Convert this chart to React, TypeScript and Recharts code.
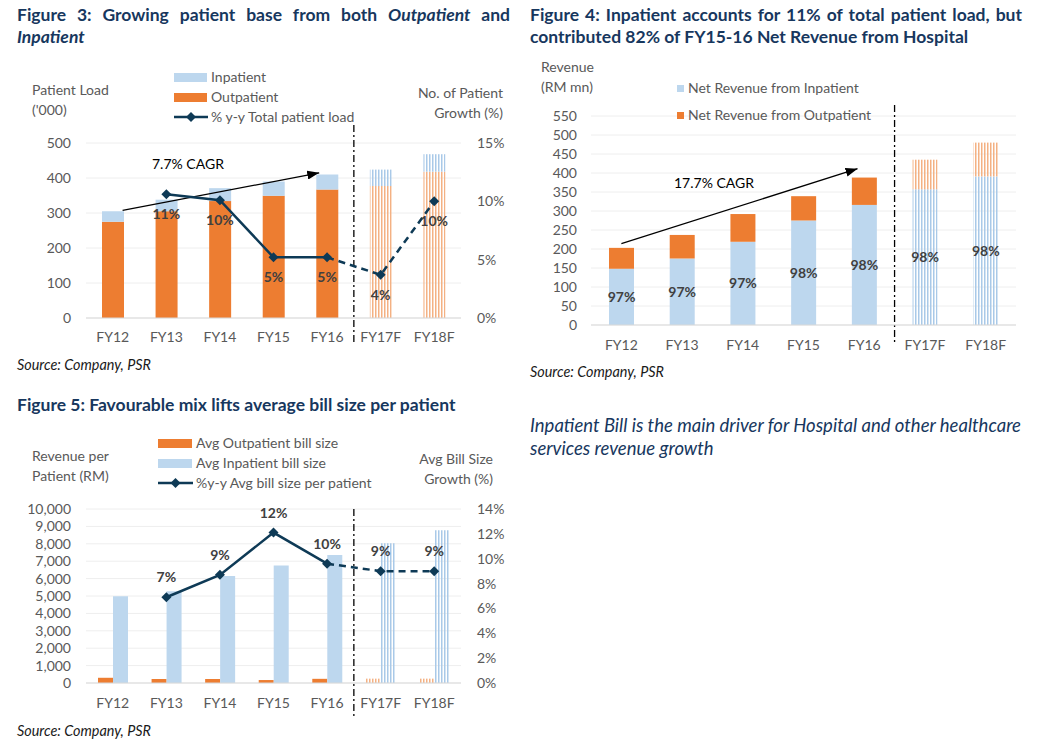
import React from "react";
import { Bar, CartesianGrid, Cell, ComposedChart, LabelList, Line, ReferenceLine, XAxis, YAxis } from "recharts";

const CATEGORIES = ["FY12", "FY13", "FY14", "FY15", "FY16", "FY17F", "FY18F"];
const LAST_ACTUAL = 4; // FY16, forecasts start after it

// Figure 3 – patient load ('000) and y-y growth (%)
const OUTPATIENT_LOAD = [275, 305, 334, 349, 367, 377, 418];
const INPATIENT_LOAD = [30, 33, 37, 41, 43, 47, 50];
const LOAD_GROWTH = [null, 10.6, 10.1, 5.2, 5.2, 3.7, 10.0];
const LOAD_TICKS = [0, 100, 200, 300, 400, 500];
const LOAD_GROWTH_TICKS = [0, 5, 10, 15];
const LOAD_CAGR = [302, 419]; // arrow FY12 -> FY16

// Figure 4 – net revenue (RM mn)
const REV_INPATIENT = [148, 175, 219, 275, 316, 357, 391];
const REV_OUTPATIENT = [55, 62, 73, 64, 72, 78, 89];
const INPATIENT_SHARE = [97, 97, 97, 98, 98, 98, 98];
const REV_TICKS = [0, 50, 100, 150, 200, 250, 300, 350, 400, 450, 500, 550];
const REV_CAGR = [214, 417];

// Figure 5 – average bill size (RM) and y-y growth (%)
const BILL_OUTPATIENT = [300, 230, 230, 170, 240, 250, 250];
const BILL_INPATIENT = [4980, 5270, 6150, 6760, 7350, 8030, 8780];
const BILL_GROWTH = [null, 6.9, 8.7, 12.1, 9.6, 9.0, 9.0];
const BILL_TICKS = [0, 1000, 2000, 3000, 4000, 5000, 6000, 7000, 8000, 9000, 10000];
const BILL_GROWTH_TICKS = [0, 2, 4, 6, 8, 10, 12, 14];

const ORANGE = "#ED7D31";
const BLUE = "#BDD7EE";
const NAVY = "#0E3A56";
const GREY = "#595959";
const LABEL = "#404040";
const GRID = "#EEEEEE";
const TITLE = "#17375E";
const FONT = "Lato, 'Open Sans', sans-serif";
const TICK = { fill: GREY, fontSize: 14, fontFamily: FONT };

const isForecast = (i: number) => i > LAST_ACTUAL;
const pct = (v: any) => (v == null ? "" : `${Math.round(Number(v))}%`);

const loadData = CATEGORIES.map((cat, i) => ({
  cat,
  outpatient: OUTPATIENT_LOAD[i],
  inpatient: INPATIENT_LOAD[i],
  growth: LOAD_GROWTH[i],
  growthActual: i <= LAST_ACTUAL ? LOAD_GROWTH[i] : null,
  growthForecast: i >= LAST_ACTUAL ? LOAD_GROWTH[i] : null,
}));

const revData = CATEGORIES.map((cat, i) => ({
  cat,
  inpatient: REV_INPATIENT[i],
  outpatient: REV_OUTPATIENT[i],
  share: INPATIENT_SHARE[i],
}));

const billData = CATEGORIES.map((cat, i) => ({
  cat,
  outpatient: BILL_OUTPATIENT[i],
  inpatient: BILL_INPATIENT[i],
  growth: BILL_GROWTH[i],
  growthActual: i <= LAST_ACTUAL ? BILL_GROWTH[i] : null,
  growthForecast: i >= LAST_ACTUAL ? BILL_GROWTH[i] : null,
}));

function Diamond(props: any) {
  const { cx, cy, index } = props;
  if (cx == null || cy == null || Number.isNaN(cx) || Number.isNaN(cy)) return <g key={`d${index}`} />;
  return <path key={`d${index}`} d={`M${cx},${cy - 5}L${cx + 5},${cy}L${cx},${cy + 5}L${cx - 5},${cy}Z`} fill={NAVY} />;
}

// dash-dot separator between actuals and forecasts, drawn a bit past the plot area
function dividerShape(extTop: number, extBottom: number) {
  return (p: any) => {
    const top = Math.min(p.y1, p.y2) - extTop;
    const bottom = Math.max(p.y1, p.y2) + extBottom;
    return <line x1={p.x1} x2={p.x1} y1={top} y2={bottom} stroke="#000" strokeWidth={1.3} strokeDasharray="7 3 2 3" />;
  };
}

function arrowShape(markerId: string, trimStart: number, trimEnd: number) {
  return (p: any) => {
    const dx = p.x2 - p.x1;
    const dy = p.y2 - p.y1;
    const len = Math.hypot(dx, dy) || 1;
    const ux = dx / len;
    const uy = dy / len;
    return (
      <line
        x1={p.x1 + ux * trimStart}
        y1={p.y1 + uy * trimStart}
        x2={p.x2 - ux * trimEnd}
        y2={p.y2 - uy * trimEnd}
        stroke="#000"
        strokeWidth={1.3}
        markerEnd={`url(#${markerId})`}
      />
    );
  };
}

function Defs({ prefix }: { prefix: string }) {
  return (
    <defs>
      <pattern id={`${prefix}-orange`} width="3" height="4" patternUnits="userSpaceOnUse">
        <rect width="1.5" height="4" fill="#F4B183" />
      </pattern>
      <pattern id={`${prefix}-blue`} width="3" height="4" patternUnits="userSpaceOnUse">
        <rect width="1.5" height="4" fill="#A9C9E8" />
      </pattern>
      <marker id={`${prefix}-arrow`} markerWidth="12" markerHeight="9" refX="12" refY="4.5" orient="auto" markerUnits="userSpaceOnUse">
        <path d="M0,0L12,4.5L0,9Z" fill="#000" />
      </marker>
    </defs>
  );
}

const abs = (left: number, top: number, extra: React.CSSProperties = {}): React.CSSProperties => ({
  position: "absolute",
  left,
  top,
  fontFamily: FONT,
  whiteSpace: "nowrap",
  ...extra,
});

function Text({ x, y, children, size = 14, color = GREY, right = false, style = {} }: any) {
  // y is the vertical centre of the text line
  const s: React.CSSProperties = right
    ? abs(0, y - 10, { width: x, textAlign: "right", fontSize: size, color, lineHeight: "20px", ...style })
    : abs(x, y - 10, { fontSize: size, color, lineHeight: "20px", ...style });
  return <div style={s}>{children}</div>;
}

function Swatch({ x, y, w, h, color }: any) {
  return <div style={abs(x, y - h / 2, { width: w, height: h, background: color })} />;
}

function LineSwatch({ x, y, w }: any) {
  return (
    <svg style={abs(x, y - 6)} width={w} height={12}>
      <line x1={0} x2={w} y1={6} y2={6} stroke={NAVY} strokeWidth={2.5} />
      <path d={`M${w / 2},1L${w / 2 + 5},6L${w / 2},11L${w / 2 - 5},6Z`} fill={NAVY} />
    </svg>
  );
}

function PatientLoadChart() {
  return (
    <div style={abs(0, 120)}>
      <ComposedChart width={520} height={240} data={loadData} margin={{ top: 23, right: 0, bottom: 0, left: 0 }} barSize={22}>
        <Defs prefix="c1" />
        <CartesianGrid vertical={false} stroke={GRID} />
        <XAxis dataKey="cat" tick={TICK} tickLine={false} axisLine={{ stroke: "#D9D9D9" }} tickMargin={8} height={42} interval={0} />
        <YAxis domain={[0, 500]} ticks={LOAD_TICKS} interval={0} tick={TICK} width={86} axisLine={false} tickLine={false} tickMargin={9} />
        <YAxis yAxisId="r" orientation="right" domain={[0, 15]} ticks={LOAD_GROWTH_TICKS} interval={0} tickFormatter={(v) => `${v}%`} tick={TICK} width={59} axisLine={false} tickLine={false} tickMargin={10} />
        <Bar dataKey="outpatient" stackId="load" isAnimationActive={false}>
          {loadData.map((_, i) => (
            <Cell key={i} fill={isForecast(i) ? "url(#c1-orange)" : ORANGE} />
          ))}
        </Bar>
        <Bar dataKey="inpatient" stackId="load" isAnimationActive={false}>
          {loadData.map((_, i) => (
            <Cell key={i} fill={isForecast(i) ? "url(#c1-blue)" : BLUE} />
          ))}
        </Bar>
        <ReferenceLine x="FY16" position="end" shape={dividerShape(18, 24)} />
        <ReferenceLine segment={[{ x: "FY12", y: LOAD_CAGR[0] }, { x: "FY16", y: LOAD_CAGR[1] }]} shape={arrowShape("c1-arrow", 10, 8)} ifOverflow="visible" />
        <Line yAxisId="r" dataKey="growthActual" stroke={NAVY} strokeWidth={2.5} dot={false} isAnimationActive={false} connectNulls={false} />
        <Line yAxisId="r" dataKey="growthForecast" stroke={NAVY} strokeWidth={2.5} strokeDasharray="7 5" dot={false} isAnimationActive={false} />
        <Line yAxisId="r" dataKey="growth" stroke="none" strokeWidth={0} dot={Diamond} activeDot={false} isAnimationActive={false}>
          <LabelList dataKey="growth" position="bottom" offset={15} formatter={pct} fill={LABEL} fontWeight={700} fontSize={14} fontFamily={FONT} />
        </Line>
      </ComposedChart>
    </div>
  );
}

function RevenueChart() {
  return (
    <div style={abs(525, 100)}>
      <ComposedChart width={513} height={270} data={revData} margin={{ top: 16, right: 22, bottom: 0, left: 0 }} barSize={25}>
        <Defs prefix="c2" />
        <CartesianGrid vertical={false} stroke={GRID} />
        <XAxis dataKey="cat" tick={TICK} tickLine={false} axisLine={{ stroke: "#D9D9D9" }} tickMargin={9} height={45} interval={0} />
        <YAxis domain={[0, 550]} ticks={REV_TICKS} interval={0} tick={TICK} width={66} axisLine={false} tickLine={false} tickMargin={8} />
        <Bar dataKey="inpatient" stackId="rev" isAnimationActive={false}>
          {revData.map((_, i) => (
            <Cell key={i} fill={isForecast(i) ? "url(#c2-blue)" : BLUE} />
          ))}
          <LabelList dataKey="share" position="center" formatter={pct} fill={LABEL} fontWeight={700} fontSize={14} fontFamily={FONT} />
        </Bar>
        <Bar dataKey="outpatient" stackId="rev" isAnimationActive={false}>
          {revData.map((_, i) => (
            <Cell key={i} fill={isForecast(i) ? "url(#c2-orange)" : ORANGE} />
          ))}
        </Bar>
        <ReferenceLine x="FY16" position="end" shape={dividerShape(11, 20)} />
        <ReferenceLine segment={[{ x: "FY12", y: REV_CAGR[0] }, { x: "FY16", y: REV_CAGR[1] }]} shape={arrowShape("c2-arrow", 0, 7)} ifOverflow="visible" />
      </ComposedChart>
    </div>
  );
}

function BillSizeChart() {
  return (
    <div style={abs(0, 490)}>
      <ComposedChart width={520} height={230} data={billData} margin={{ top: 19, right: 0, bottom: 0, left: 0 }} barSize={15} barGap={0}>
        <Defs prefix="c3" />
        <CartesianGrid vertical={false} stroke={GRID} />
        <XAxis dataKey="cat" tick={TICK} tickLine={false} axisLine={{ stroke: "#D9D9D9" }} tickMargin={9} height={37} interval={0} />
        <YAxis domain={[0, 10000]} ticks={BILL_TICKS} interval={0} tickFormatter={(v) => Number(v).toLocaleString("en-US")} tick={TICK} width={86} axisLine={false} tickLine={false} tickMargin={9} />
        <YAxis yAxisId="r" orientation="right" domain={[0, 14]} ticks={BILL_GROWTH_TICKS} interval={0} tickFormatter={(v) => `${v}%`} tick={TICK} width={59} axisLine={false} tickLine={false} tickMargin={10} />
        <Bar dataKey="outpatient" isAnimationActive={false}>
          {billData.map((_, i) => (
            <Cell key={i} fill={isForecast(i) ? "url(#c3-orange)" : ORANGE} />
          ))}
        </Bar>
        <Bar dataKey="inpatient" isAnimationActive={false}>
          {billData.map((_, i) => (
            <Cell key={i} fill={isForecast(i) ? "url(#c3-blue)" : BLUE} />
          ))}
        </Bar>
        <ReferenceLine x="FY16" position="end" shape={dividerShape(0, 33)} />
        <Line yAxisId="r" dataKey="growthActual" stroke={NAVY} strokeWidth={2.5} dot={false} isAnimationActive={false} />
        <Line yAxisId="r" dataKey="growthForecast" stroke={NAVY} strokeWidth={2.5} strokeDasharray="7 5" dot={false} isAnimationActive={false} />
        <Line yAxisId="r" dataKey="growth" stroke="none" strokeWidth={0} dot={Diamond} activeDot={false} isAnimationActive={false}>
          <LabelList dataKey="growth" position="top" offset={15} formatter={pct} fill={LABEL} fontWeight={700} fontSize={14} fontFamily={FONT} />
        </Line>
      </ComposedChart>
    </div>
  );
}

const titleStyle = (left: number, top: number, width: number): React.CSSProperties => ({
  position: "absolute",
  left,
  top,
  width,
  fontFamily: FONT,
  fontWeight: 700,
  fontSize: 17.5,
  lineHeight: "22px",
  color: TITLE,
  textAlign: "justify",
});

const sourceStyle = { fontStyle: "italic", color: "#1A1A1A" };

export default function App() {
  return (
    <div style={{ position: "absolute", left: 0, top: 0, width: 1038, height: 745, background: "#fff", overflow: "hidden" }}>
      {/* Figure 3 */}
      <div style={titleStyle(17, 4, 493)}>
        Figure 3: Growing patient base from both <i>Outpatient</i> and <i>Inpatient</i>
      </div>
      <PatientLoadChart />
      <Text x={32} y={90}>Patient Load</Text>
      <Text x={32} y={110}>('000)</Text>
      <Text x={503} y={93} right>No. of Patient</Text>
      <Text x={503} y={113} right>Growth (%)</Text>
      <Swatch x={174} y={77.5} w={33} h={9} color={BLUE} />
      <Text x={211} y={77}>Inpatient</Text>
      <Swatch x={174} y={97.5} w={33} h={9} color={ORANGE} />
      <Text x={211} y={97}>Outpatient</Text>
      <LineSwatch x={174} y={117} w={34} />
      <Text x={211} y={117}>% y-y Total patient load</Text>
      <Text x={152} y={164} size={14} color="#000">7.7% CAGR</Text>
      <Text x={17} y={365} size={14.4} style={sourceStyle}>Source: Company, PSR</Text>

      {/* Figure 4 */}
      <div style={titleStyle(530, 4, 492)}>
        Figure 4: Inpatient accounts for 11% of total patient load, but contributed 82% of FY15-16 Net Revenue from Hospital
      </div>
      <RevenueChart />
      <Text x={541} y={67}>Revenue</Text>
      <Text x={541} y={87}>(RM mn)</Text>
      <Swatch x={677} y={88.5} w={7} h={7} color={BLUE} />
      <Text x={688} y={88}>Net Revenue from Inpatient</Text>
      <Swatch x={677} y={115.5} w={7} h={7} color={ORANGE} />
      <Text x={688} y={115}>Net Revenue from Outpatient</Text>
      <Text x={674} y={183} size={14} color="#000">17.7% CAGR</Text>
      <Text x={530} y={372} size={14.4} style={sourceStyle}>Source: Company, PSR</Text>

      {/* Figure 5 */}
      <div style={titleStyle(17, 394, 500)}>Figure 5: Favourable mix lifts average bill size per patient</div>
      <BillSizeChart />
      <Text x={32} y={456}>Revenue per</Text>
      <Text x={32} y={476}>Patient (RM)</Text>
      <Text x={493} y={459} right>Avg Bill Size</Text>
      <Text x={493} y={479} right>Growth (%)</Text>
      <Swatch x={158} y={443.5} w={34} h={9} color={ORANGE} />
      <Text x={196} y={443}>Avg Outpatient bill size</Text>
      <Swatch x={158} y={463.5} w={34} h={9} color={BLUE} />
      <Text x={196} y={463}>Avg Inpatient bill size</Text>
      <LineSwatch x={158} y={483} w={35} />
      <Text x={196} y={483}>%y-y Avg bill size per patient</Text>
      <Text x={17} y={731} size={14.4} style={sourceStyle}>Source: Company, PSR</Text>

      {/* commentary */}
      <div style={abs(530, 414, { fontSize: 18.5, lineHeight: "22.5px", fontStyle: "italic", color: TITLE, whiteSpace: "normal", width: 497 })}>
        Inpatient Bill is the main driver for Hospital and other healthcare services revenue growth
      </div>
    </div>
  );
}
